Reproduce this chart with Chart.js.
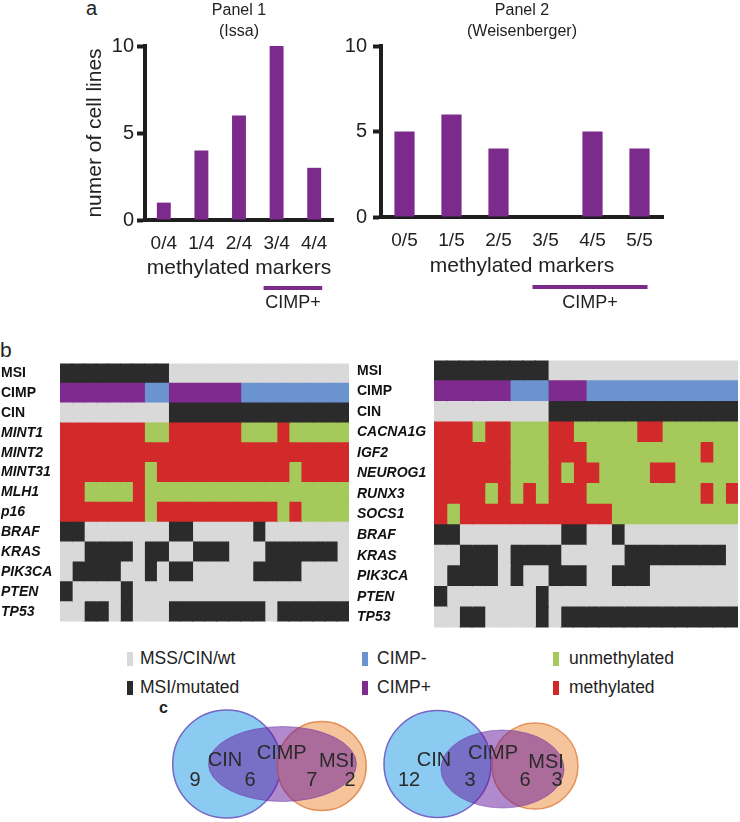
<!DOCTYPE html>
<html>
<head>
<meta charset="utf-8">
<script src="https://cdn.jsdelivr.net/npm/chart.js@4.4.1/dist/chart.umd.min.js"></script>
<style>
body { margin: 0; background: #fff; width: 740px; height: 822px; position: relative; overflow: hidden; font-family: "Liberation Sans", Arial, sans-serif; color: #222; }
canvas { position: absolute; }
.lbl { position: absolute; line-height: 1; white-space: nowrap; }
.sw { position: absolute; width: 6px; height: 14px; }
</style>
</head>
<body>
<div class="lbl" style="left:86px;top:-2px;font-size:20px">a</div>
<canvas id="bar1" width="345" height="320" style="left:0;top:0"></canvas>
<canvas id="bar2" width="340" height="320" style="left:340px;top:0"></canvas>

<div class="lbl" style="left:0;top:339px;font-size:21px">b</div>
<canvas id="heat1" width="352" height="275" style="left:0;top:355px"></canvas>
<canvas id="heat2" width="384" height="284" style="left:356px;top:352px"></canvas>

<div id="legend"></div>

<div class="lbl" style="left:159px;top:700px;font-size:16px;font-weight:bold">c</div>
<canvas id="venn" width="440" height="127" style="left:150px;top:695px"></canvas>

<script>
// panel a: methylated markers per cell line
const panel1Labels = ['0/4', '1/4', '2/4', '3/4', '4/4'];
const panel1Counts = [1, 4, 6, 10, 3];
const panel2Labels = ['0/5', '1/5', '2/5', '3/5', '4/5', '5/5'];
const panel2Counts = [5, 6, 4, 0, 5, 4];
const cimpFrom1 = 3;   // 3/4 and up
const cimpFrom2 = 3;   // 3/5 and up

// panel b: 24 cell lines per panel, rows top to bottom
const rows1Labels = ['MSI', 'CIMP', 'CIN', 'MINT1', 'MINT2', 'MINT31', 'MLH1', 'p16', 'BRAF', 'KRAS', 'PIK3CA', 'PTEN', 'TP53'];
const msi1   = [1,1,1,1,1,1,1,1,1,0,0,0,0,0,0,0,0,0,0,0,0,0,0,0];
const cimp1  = [1,1,1,1,1,1,1,0,0,1,1,1,1,1,1,0,0,0,0,0,0,0,0,0];
const cin1   = [0,0,0,0,0,0,0,0,0,1,1,1,1,1,1,1,1,1,1,1,1,1,1,1];
const mint1  = [1,1,1,1,1,1,1,0,0,1,1,1,1,1,1,0,0,0,1,0,0,0,0,0];
const mint2  = [1,1,1,1,1,1,1,1,1,1,1,1,1,1,1,1,1,1,1,1,1,1,1,1];
const mint31 = [1,1,1,1,1,1,1,0,1,1,1,1,1,1,1,1,1,1,1,0,1,1,1,1];
const mlh1   = [1,1,0,0,0,0,1,0,0,0,0,0,0,0,0,0,0,0,0,0,0,0,0,0];
const p16    = [1,1,1,1,1,1,1,0,1,1,1,1,1,1,1,1,1,1,0,1,0,0,0,0];
const braf1  = [1,1,0,0,0,0,0,0,0,1,1,0,0,0,0,0,1,0,0,0,0,0,0,0];
const kras1  = [0,0,1,1,1,1,0,1,1,0,0,1,1,1,0,0,0,1,1,1,1,1,1,0];
const pik1   = [0,1,1,1,1,0,0,1,0,1,1,0,0,0,0,0,1,1,1,1,0,0,0,0];
const pten1  = [1,0,0,0,0,1,0,0,0,0,0,0,0,0,0,0,0,0,0,0,0,0,0,0];
const tp53_1 = [0,0,1,1,0,1,0,0,0,1,1,1,1,1,1,1,1,0,1,1,1,1,1,1];

const rows2Labels = ['MSI', 'CIMP', 'CIN', 'CACNA1G', 'IGF2', 'NEUROG1', 'RUNX3', 'SOCS1', 'BRAF', 'KRAS', 'PIK3CA', 'PTEN', 'TP53'];
const msi2    = [1,1,1,1,1,1,1,1,1,0,0,0,0,0,0,0,0,0,0,0,0,0,0,0];
const cimp2   = [1,1,1,1,1,1,0,0,0,1,1,1,0,0,0,0,0,0,0,0,0,0,0,0];
const cin2    = [0,0,0,0,0,0,0,0,0,1,1,1,1,1,1,1,1,1,1,1,1,1,1,1];
const cacna1g = [1,1,1,0,1,1,0,0,0,1,1,0,0,0,0,0,1,1,0,0,0,0,0,0];
const igf2    = [1,1,1,1,1,1,0,0,0,1,1,1,0,0,0,0,0,0,0,0,0,1,0,0];
const neurog1 = [1,1,1,1,1,1,0,0,0,1,0,1,1,0,0,0,0,1,1,0,0,0,0,0];
const runx3   = [1,1,1,1,0,1,0,1,0,1,1,1,0,0,0,0,0,0,0,0,0,1,0,1];
const socs1   = [1,0,1,1,1,1,1,1,1,1,1,1,1,1,0,0,0,0,0,0,0,0,0,0];
const braf2   = [1,1,0,0,0,0,0,0,0,0,1,1,0,0,1,0,0,0,0,0,0,0,0,0];
const kras2   = [0,0,1,1,1,0,1,1,1,1,0,0,0,0,0,1,1,1,1,1,1,1,1,0];
const pik2    = [0,1,1,1,1,0,1,0,0,1,1,1,0,0,1,1,1,0,0,0,0,0,0,0];
const pten2   = [1,0,0,0,0,0,0,0,1,0,0,0,0,0,0,0,0,0,0,0,0,0,0,0];
const tp53_2  = [0,0,1,1,0,0,0,0,1,0,1,1,1,1,1,1,1,1,1,1,1,1,1,1];

const rowKinds = ['status', 'cimp', 'status', 'meth', 'meth', 'meth', 'meth', 'meth', 'status', 'status', 'status', 'status', 'status'];

// panel c: CIN only, CIN+CIMP, CIMP+MSI, MSI only
const vennSets = ['CIN', 'CIMP', 'MSI'];
const venn1Counts = [9, 6, 7, 2];
const venn2Counts = [12, 3, 6, 3];

const legendItems = [
  ['MSS/CIN/wt', '#d9d9d9'], ['MSI/mutated', '#2b2b2b'],
  ['CIMP-', '#6b93cf'], ['CIMP+', '#7e2a8e'],
  ['unmethylated', '#a5c95b'], ['methylated', '#d2292a']
];

const palette = {
  status: ['#d9d9d9', '#2b2b2b'],
  cimp: ['#6b93cf', '#7e2a8e'],
  meth: ['#a5c95b', '#d2292a']
};
const barPurple = '#7d2a8d';
const axisColor = '#1e1e1e';

Chart.defaults.font.family = '"Liberation Sans", Arial, sans-serif';
Chart.defaults.color = '#222';

// purple CIMP+ bar under the x axis
const cimpBracket = {
  id: 'cimpBracket',
  afterDraw(chart, args, o) {
    const x = chart.scales.x, ctx = chart.ctx, b = chart.chartArea.bottom;
    const x0 = x.getPixelForValue(o.from) - 13;
    const x1 = x.getPixelForValue(x.ticks.length - 1) + 8;
    ctx.save();
    ctx.strokeStyle = barPurple;
    ctx.lineWidth = 4;
    ctx.beginPath();
    ctx.moveTo(x0, b + o.lineY);
    ctx.lineTo(x1, b + o.lineY);
    ctx.stroke();
    ctx.fillStyle = '#222';
    ctx.font = '18px "Liberation Sans", Arial, sans-serif';
    ctx.textAlign = 'center';
    ctx.textBaseline = 'middle';
    ctx.fillText('CIMP+', (x0 + x1) / 2, b + o.textY);
    ctx.restore();
  }
};

function barChart(id, labels, values, cimpFrom, cfg) {
  return new Chart(document.getElementById(id), {
    type: 'bar',
    data: {
      labels: labels,
      datasets: [{ data: values, backgroundColor: barPurple, barPercentage: cfg.barPct, categoryPercentage: 1 }]
    },
    options: {
      responsive: false,
      animation: false,
      events: [],
      layout: { padding: cfg.pad },
      plugins: {
        legend: { display: false },
        tooltip: { enabled: false },
        title: {
          display: true, text: cfg.title, fullSize: false, color: '#222',
          font: { size: 16, weight: 'normal', lineHeight: 1.3 },
          padding: { top: 0, bottom: 4.4 }
        },
        cimpBracket: { from: cimpFrom, lineY: cfg.lineY, textY: cfg.textY }
      },
      scales: {
        x: {
          z: 1,
          grid: { display: false, drawTicks: false },
          border: { width: 4, color: axisColor },
          ticks: { padding: 12, color: '#222', font: { size: 19 } },
          title: { display: true, text: 'methylated markers', color: '#222', font: { size: 21 }, padding: { top: 0, bottom: 1 } },
          afterFit: s => { s.height = cfg.xH; }
        },
        y: {
          z: 1,
          min: 0, max: 10,
          ticks: { stepSize: 5, padding: cfg.tickPad, color: '#222', font: { size: 20 } },
          grid: { drawOnChartArea: false, tickLength: 8, tickWidth: 4, tickColor: axisColor },
          border: { width: 4, color: axisColor },
          title: { display: !!cfg.yTitle, text: cfg.yTitle, color: '#222', font: { size: 21 }, padding: { top: 2, bottom: 0 } },
          afterFit: s => { s.width = cfg.yW; }
        }
      }
    },
    plugins: [cimpBracket]
  });
}

barChart('bar1', panel1Labels, panel1Counts, cimpFrom1, {
  title: ['Panel 1', '(Issa)'], yTitle: 'numer of cell lines', barPct: 0.37,
  pad: { left: 81, right: 12, top: 0, bottom: 38 }, yW: 64, xH: 62, tickPad: 3, lineY: 68, textY: 83
});
barChart('bar2', panel2Labels, panel2Counts, cimpFrom2, {
  title: ['Panel 2', '(Weisenberger)'], yTitle: '', barPct: 0.43,
  pad: { left: 0, right: 17, top: 0, bottom: 40 }, yW: 41, xH: 63, tickPad: 6, lineY: 70, textY: 86
});

function heatmap(id, labels, rows, leftW, pad) {
  const datasets = [];
  for (let c = 0; c < rows[0].length; c++) {
    datasets.push({
      data: rows.map(() => 1),
      backgroundColor: rows.map((r, i) => palette[rowKinds[i]][r[c]]),
      borderWidth: 0,
      inflateAmount: 0.6,
      barPercentage: 1,
      categoryPercentage: 1
    });
  }
  return new Chart(document.getElementById(id), {
    type: 'bar',
    data: { labels: labels, datasets: datasets },
    options: {
      indexAxis: 'y',
      responsive: false,
      animation: false,
      events: [],
      layout: { padding: pad },
      plugins: { legend: { display: false }, tooltip: { enabled: false } },
      scales: {
        x: { display: false, stacked: true, min: 0, max: rows[0].length },
        y: {
          stacked: true,
          grid: { display: false },
          border: { display: false },
          ticks: {
            crossAlign: 'far', padding: 0, color: '#111',
            font: ctx => ({ size: 14, weight: 'bold', style: ctx.index >= 3 ? 'italic' : 'normal' })
          },
          afterFit: s => { s.width = leftW; }
        }
      }
    }
  });
}

heatmap('heat1', rows1Labels,
  [msi1, cimp1, cin1, mint1, mint2, mint31, mlh1, p16, braf1, kras1, pik1, pten1, tp53_1],
  59, { left: 1, top: 8, right: 3, bottom: 4 });
heatmap('heat2', rows2Labels,
  [msi2, cimp2, cin2, cacna1g, igf2, neurog1, runx3, socs1, braf2, kras2, pik2, pten2, tp53_2],
  77, { left: 1, top: 7, right: 2, bottom: 4 });

// legend under the heatmaps (3 columns x 2 rows)
const legendCols = [[127, 140], [362, 377], [553, 569]];
const legendRows = [[652, 650], [681, 679]];
let legendHtml = '';
legendItems.forEach((it, i) => {
  const col = legendCols[Math.floor(i / 2)], row = legendRows[i % 2];
  legendHtml += '<div class="sw" style="left:' + col[0] + 'px;top:' + row[0] + 'px;background:' + it[1] + '"></div>';
  legendHtml += '<div class="lbl" style="left:' + col[1] + 'px;top:' + row[1] + 'px;font-size:17.5px">' + it[0] + '</div>';
});
document.getElementById('legend').innerHTML = legendHtml;

// venn layout (canvas units), kept apart from the counts
const vennLayout = [
  { counts: venn1Counts, cin: [76.7, 69, 54], cimp: [132.5, 69, 74, 37.5], msi: [171.7, 71, 44.5],
    setPos: [[75, 65], [131.7, 58.3], [186.7, 66.7]], countX: [45, 100, 161.7, 200] },
  { counts: venn2Counts, cin: [287.5, 69, 53.5], cimp: [352.5, 74, 61.6, 39], msi: [385, 71, 43],
    setPos: [[284, 65], [343, 58], [396, 67]], countX: [259, 320, 375, 407] }
];
const countY = 85;

const vennOverlay = {
  id: 'vennOverlay',
  afterDatasetsDraw(chart) {
    const { ctx, scales: { x, y } } = chart;
    ctx.save();
    vennLayout.forEach(v => {
      ctx.beginPath();
      ctx.ellipse(x.getPixelForValue(v.cimp[0]), y.getPixelForValue(v.cimp[1]), v.cimp[2], v.cimp[3], 0, 0, Math.PI * 2);
      ctx.fillStyle = 'rgba(100, 20, 155, 0.5)';
      ctx.fill();
      ctx.lineWidth = 1;
      ctx.strokeStyle = 'rgba(110, 60, 170, 0.5)';
      ctx.stroke();
    });
    ctx.fillStyle = '#2a2a2a';
    ctx.font = '20px "Liberation Sans", Arial, sans-serif';
    ctx.textAlign = 'center';
    ctx.textBaseline = 'middle';
    vennLayout.forEach(v => {
      vennSets.forEach((s, i) => ctx.fillText(s, x.getPixelForValue(v.setPos[i][0]), y.getPixelForValue(v.setPos[i][1])));
      v.counts.forEach((n, i) => ctx.fillText(String(n), x.getPixelForValue(v.countX[i]), y.getPixelForValue(countY)));
    });
    ctx.restore();
  }
};

new Chart(document.getElementById('venn'), {
  type: 'bubble',
  data: {
    datasets: [
      { data: vennLayout.map(v => ({ x: v.msi[0], y: v.msi[1], r: v.msi[2] })),
        backgroundColor: '#f5c49b', borderColor: '#e5925a', borderWidth: 1.5, clip: false },
      { data: vennLayout.map(v => ({ x: v.cin[0], y: v.cin[1], r: v.cin[2] })),
        backgroundColor: '#8ccbf1', borderColor: '#7466c6', borderWidth: 1.5, clip: false }
    ]
  },
  options: {
    responsive: false,
    animation: false,
    events: [],
    layout: { padding: 0, autoPadding: false },
    plugins: { legend: { display: false }, tooltip: { enabled: false } },
    scales: {
      x: { type: 'linear', display: false, min: 0, max: 440 },
      y: { type: 'linear', display: false, min: 0, max: 127, reverse: true }
    }
  },
  plugins: [vennOverlay]
});
</script>
</body>
</html>
